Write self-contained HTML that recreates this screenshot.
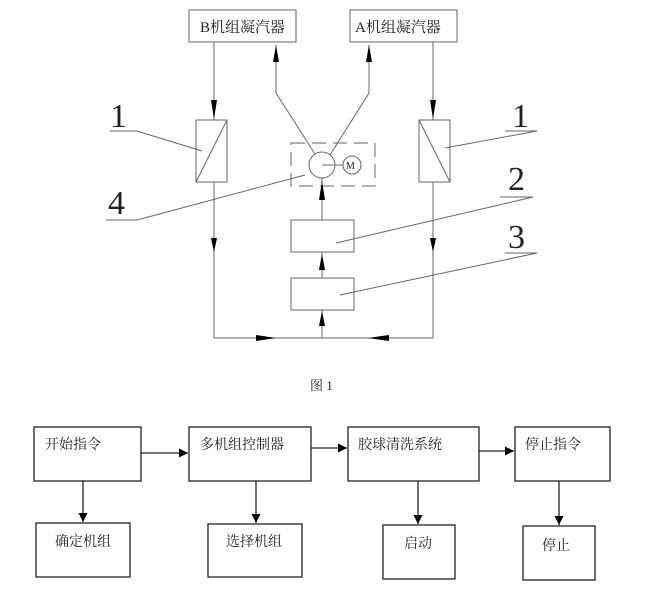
<!DOCTYPE html>
<html><head><meta charset="utf-8"><style>
html,body{margin:0;padding:0;background:#fff}
svg text{font-family:"Liberation Serif","Noto Serif CJK SC",serif;fill:#222}
</style></head><body>
<svg width="671" height="598" viewBox="0 0 671 598" xmlns="http://www.w3.org/2000/svg">
<defs>
<marker id="a" viewBox="0 0 10 10" refX="10" refY="5" markerWidth="9" markerHeight="10" markerUnits="userSpaceOnUse" orient="auto"><path d="M0,0 L10,5 L0,10Z" fill="#000"/></marker>
</defs>
<g stroke="#666" stroke-width="1" fill="none">
<rect x="189" y="10" width="107" height="32"/>
<rect x="350" y="10" width="107" height="32"/>
<rect x="196" y="120" width="31" height="62"/>
<line x1="196" y1="182" x2="227" y2="120"/>
<rect x="419" y="120" width="31" height="62"/>
<line x1="419" y1="120" x2="450" y2="182"/>
<rect x="291" y="143" width="84" height="43" stroke-dasharray="14,7"/>
<circle cx="322" cy="165" r="13" fill="#fff"/>
<circle cx="352" cy="165" r="9" fill="#fff"/>
<line x1="322" y1="165" x2="343" y2="165"/>
<rect x="291" y="220" width="63" height="32"/>
<rect x="291" y="278" width="63" height="32"/>
<polyline points="214,42 214,120"/>
<polyline points="433,42 433,120"/>
<polyline points="214,182 214,338 433,338 433,182"/>
<line x1="322" y1="338" x2="322" y2="310"/>
<line x1="322" y1="278" x2="322" y2="252"/>
<line x1="322" y1="220" x2="322" y2="178"/>
<polyline points="315,154 276,93 276,45"/>
<polyline points="330,155 369,93 369,45"/>
<polyline points="110,131 137,131 202,151"/>
<polyline points="505,131 537,131 445,148"/>
<polyline points="106,220 137,220 305,175"/>
<polyline points="500,197 533,197 336,243"/>
<polyline points="505,253 537,253 340,295"/>
</g>
<g fill="#000">
<path d="M211,100 L217,100 L214,119Z"/><path d="M430,100 L436,100 L433,119Z"/>
<path d="M211,238 L217,238 L214,252Z"/><path d="M430,238 L436,238 L433,252Z"/>
<path d="M273,62 L279,62 L276,45Z"/><path d="M366,62 L372,62 L369,45Z"/>
<path d="M319,200 L325,200 L322,181Z"/>
<path d="M319,270 L325,270 L322,254Z"/>
<path d="M319,326 L325,326 L322,311Z"/>
<path d="M256,335 L256,341 L276,338Z"/>
<path d="M389,335 L389,341 L368,338Z"/>
</g>
<text x="200" y="32" font-size="15">B机组凝汽器</text>
<text x="355" y="32" font-size="15">A机组凝汽器</text>
<text x="346" y="169" font-size="10">M</text>
<text x="110" y="127" font-size="34">1</text>
<text x="512" y="127" font-size="34">1</text>
<text x="108" y="214" font-size="34">4</text>
<text x="508" y="190" font-size="34">2</text>
<text x="508" y="248" font-size="34">3</text>
<text x="310" y="390" font-size="13">图 1</text>
<g stroke="#222" stroke-width="1.3" fill="none">
<rect x="34" y="427" width="107" height="54"/>
<rect x="189" y="427" width="122" height="54"/>
<rect x="348" y="427" width="131" height="54"/>
<rect x="515" y="427" width="95" height="54"/>
<rect x="36" y="523" width="94" height="54"/>
<rect x="208" y="524" width="94" height="53"/>
<rect x="383" y="525" width="72" height="54"/>
<rect x="523" y="526" width="72" height="54"/>
<line x1="141" y1="453" x2="188" y2="453" marker-end="url(#a)"/>
<line x1="311" y1="448" x2="347" y2="448" marker-end="url(#a)"/>
<line x1="479" y1="451" x2="514" y2="451" marker-end="url(#a)"/>
<line x1="83" y1="481" x2="83" y2="522" marker-end="url(#a)"/>
<line x1="256" y1="481" x2="256" y2="523" marker-end="url(#a)"/>
<line x1="418" y1="481" x2="418" y2="524" marker-end="url(#a)"/>
<line x1="559" y1="481" x2="559" y2="525" marker-end="url(#a)"/>
</g>
<g font-size="14">
<text x="45" y="449">开始指令</text>
<text x="200" y="449">多机组控制器</text>
<text x="358" y="449">胶球清洗系统</text>
<text x="525" y="449">停止指令</text>
<text x="55" y="546">确定机组</text>
<text x="226" y="546">选择机组</text>
<text x="404" y="548">启动</text>
<text x="542" y="550">停止</text>
</g>
</svg>
</body></html>
